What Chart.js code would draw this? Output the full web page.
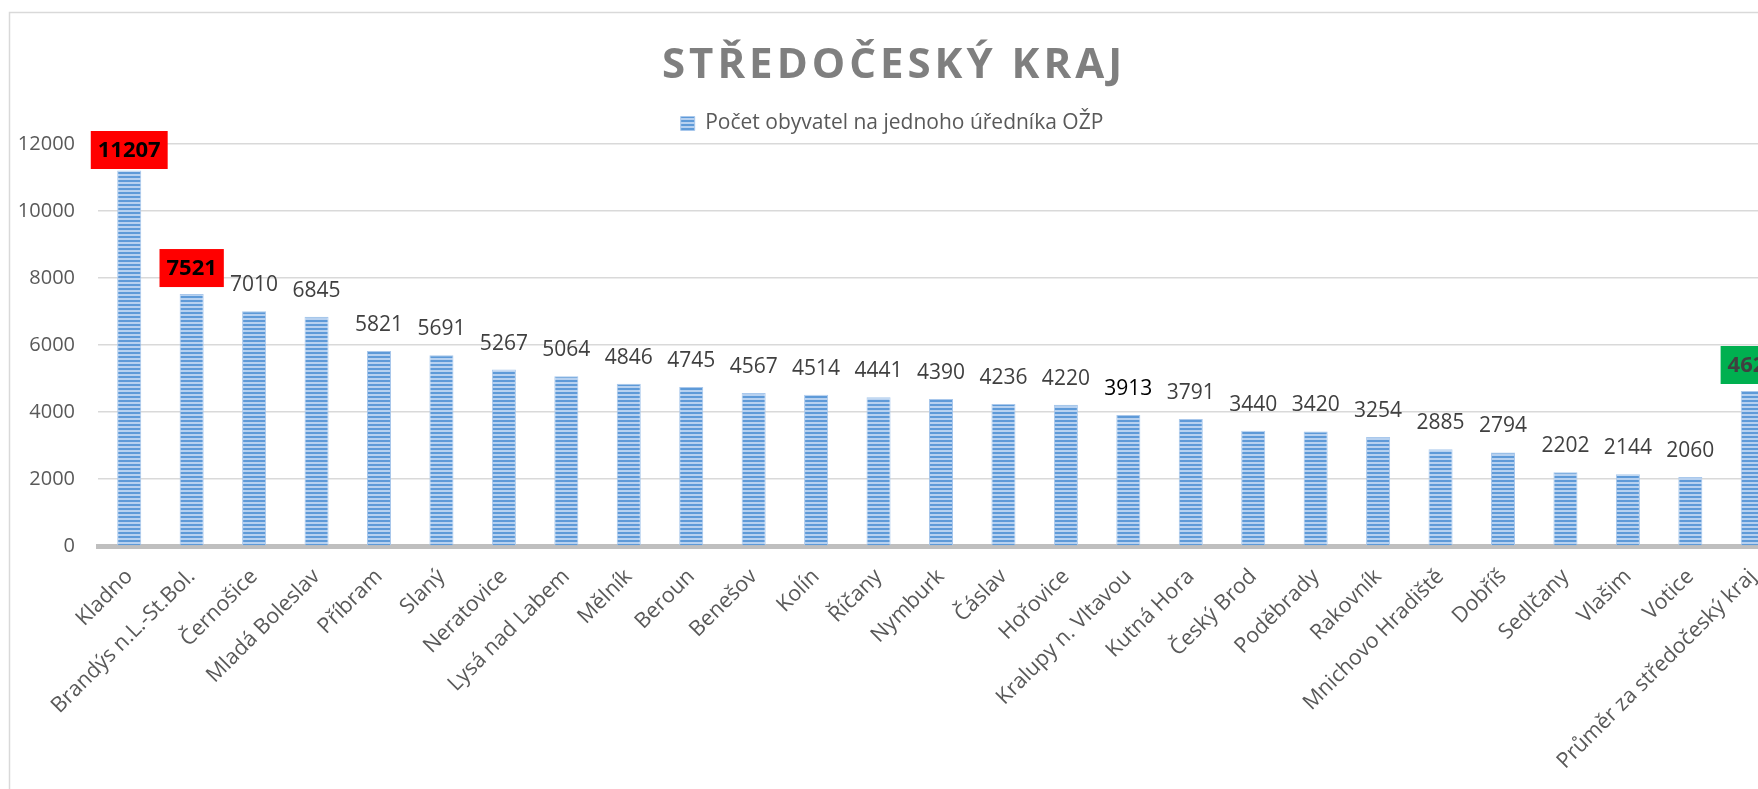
<!DOCTYPE html>
<html>
<head>
<meta charset="utf-8">
<script src="https://cdn.jsdelivr.net/npm/chart.js@4.4.0/dist/chart.umd.min.js"></script>
<style>
html, body { margin: 0; padding: 0; background: #fff; overflow: hidden; }
#wrap { position: relative; width: 1758px; height: 789px; overflow: hidden; }
#chart { position: absolute; left: 0; top: 0; }
</style>
</head>
<body>
<div id="wrap"><canvas id="chart" width="1784" height="820"></canvas></div>
<script>
const chartTitle = 'STŘEDOČESKÝ KRAJ';
const seriesName = 'Počet obyvatel na jednoho úředníka OŽP';

const districts = [
    'Kladno', 'Brandýs n.L.-St.Bol.', 'Černošice', 'Mladá Boleslav', 'Příbram',
    'Slaný', 'Neratovice', 'Lysá nad Labem', 'Mělník', 'Beroun', 'Benešov',
    'Kolín', 'Říčany', 'Nymburk', 'Čáslav', 'Hořovice', 'Kralupy n. Vltavou',
    'Kutná Hora', 'Český Brod', 'Poděbrady', 'Rakovník', 'Mnichovo Hradiště',
    'Dobříš', 'Sedlčany', 'Vlašim', 'Votice', 'Průměr za středočeský kraj'
];
const perOfficer = [
    11207, 7521, 7010, 6845, 5821, 5691, 5267, 5064, 4846, 4745, 4567,
    4514, 4441, 4390, 4236, 4220, 3913, 3791, 3440, 3420, 3254, 2885,
    2794, 2202, 2144, 2060, 4627
];
const yTicks = [0, 2000, 4000, 6000, 8000, 10000, 12000];

// labels drawn in a coloured box / in black
const redLabels = ['Kladno', 'Brandýs n.L.-St.Bol.'];
const greenLabels = ['Průměr za středočeský kraj'];
const blackLabels = ['Kralupy n. Vltavou'];

// striped fill like the excel "horizontal lines" pattern
function stripes() {
    const c = document.createElement('canvas');
    c.width = 4; c.height = 4;
    const g = c.getContext('2d');
    g.fillStyle = '#b7d1f0';
    g.fillRect(0, 0, 4, 4);
    g.fillStyle = '#5e9ad8';
    g.fillRect(0, 0, 4, 2);
    return g.createPattern(c, 'repeat');
}

const framePlugin = {
    id: 'frame',
    beforeDraw(chart) {
        const ctx = chart.ctx;
        ctx.save();
        ctx.strokeStyle = '#d9d9d9';
        ctx.lineWidth = 1.5;
        ctx.strokeRect(9.5, 12.5, 2000, 2000);
        ctx.font = 'bold 42px "Open Sans"';
        ctx.letterSpacing = '4px';
        ctx.fillStyle = '#7f7f7f';
        ctx.textAlign = 'center';
        ctx.textBaseline = 'middle';
        ctx.fillText(chartTitle, 894, 66);
        ctx.restore();
    }
};

const valueLabels = {
    id: 'valueLabels',
    afterDatasetsDraw(chart) {
        const ctx = chart.ctx;
        const meta = chart.getDatasetMeta(0);
        ctx.save();
        ctx.textAlign = 'center';
        ctx.textBaseline = 'middle';
        meta.data.forEach((bar, i) => {
            const name = districts[i];
            const txt = String(perOfficer[i]);
            const y = bar.y - 26;
            if (redLabels.includes(name) || greenLabels.includes(name)) {
                const by = Math.max(y, chart.chartArea.top + 6);
                ctx.font = 'bold 22px "Open Sans"';
                const w = ctx.measureText(txt).width + 14;
                ctx.fillStyle = redLabels.includes(name) ? '#ff0000' : '#00b050';
                ctx.fillRect(bar.x - w / 2, by - 19, w, 38);
                ctx.fillStyle = redLabels.includes(name) ? '#000000' : '#404040';
                ctx.fillText(txt, bar.x, by + 1);
            } else {
                ctx.font = '21px "Open Sans"';
                ctx.fillStyle = blackLabels.includes(name) ? '#000000' : '#404040';
                ctx.fillText(txt, bar.x, y);
            }
        });
        ctx.restore();
    }
};

const ctx = document.getElementById('chart').getContext('2d');
new Chart(ctx, {
    type: 'bar',
    data: {
        labels: districts,
        datasets: [{
            label: seriesName,
            data: perOfficer,
            backgroundColor: stripes(),
            borderColor: '#a9c8ec',
            borderWidth: 1,
            barPercentage: 0.385,
            categoryPercentage: 1
        }]
    },
    options: {
        responsive: false,
        animation: false,
        layout: { padding: { top: 98, left: 0, right: 0, bottom: 0 } },
        plugins: {
            title: { display: false },
            tooltip: { enabled: false },
            legend: {
                position: 'top',
                labels: {
                    boxWidth: 14,
                    boxHeight: 14,
                    padding: 15,
                    color: '#595959',
                    font: { family: 'Open Sans', size: 21 }
                }
            }
        },
        scales: {
            x: {
                grid: { display: false },
                border: { display: true, color: '#bfbfbf', width: 5 },
                ticks: {
                    color: '#595959',
                    font: { family: 'Open Sans', size: 21.5 },
                    minRotation: 45,
                    maxRotation: 45,
                    autoSkip: false,
                    padding: 10
                },
                afterFit(scale) { scale.height = 274; }
            },
            y: {
                min: 0,
                max: 12000,
                border: { display: false },
                grid: { color: '#d9d9d9', lineWidth: 1.5, drawTicks: false },
                ticks: {
                    color: '#595959',
                    font: { family: 'Open Sans', size: 20 },
                    padding: 23,
                    callback: v => String(v)
                },
                afterBuildTicks(scale) { scale.ticks = yTicks.map(v => ({ value: v })); },
                afterFit(scale) { scale.width = 98; }
            }
        }
    },
    plugins: [framePlugin, valueLabels]
});
</script>
</body>
</html>
